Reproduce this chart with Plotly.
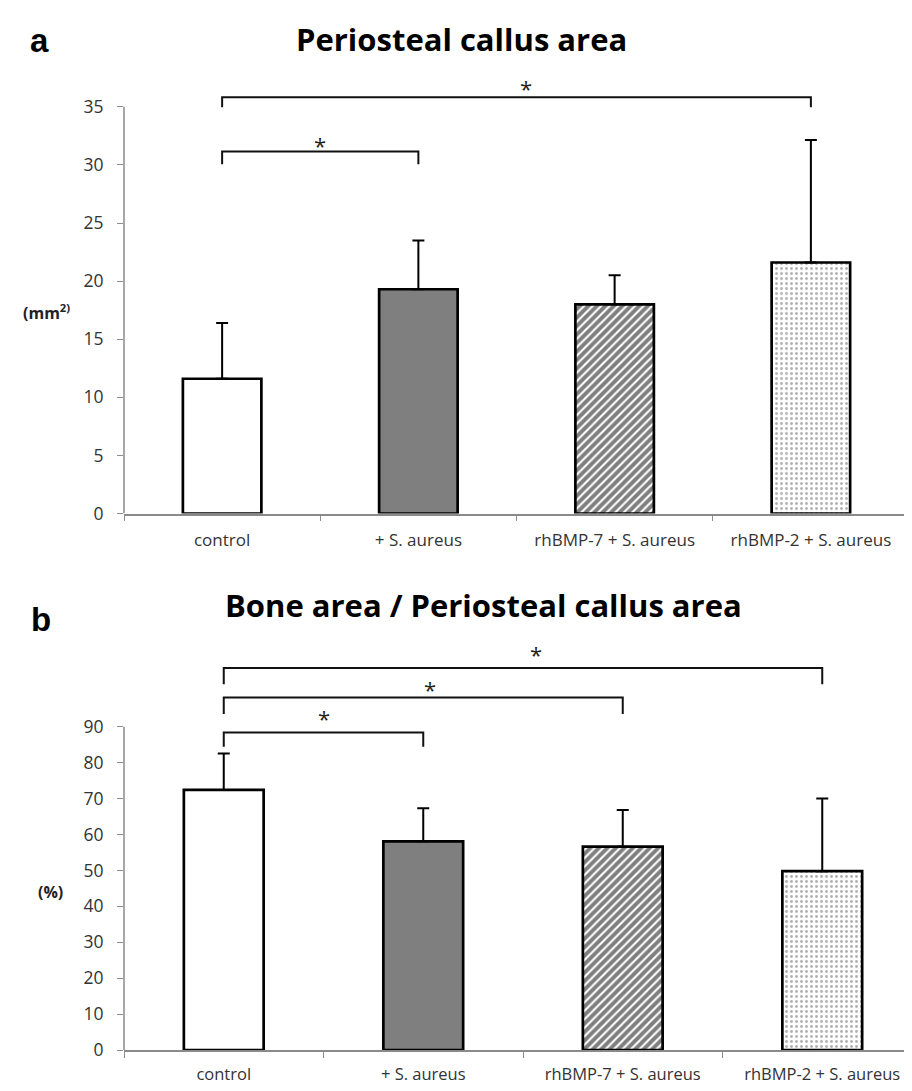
import plotly.graph_objects as go

categories = ["control", "+ S. aureus", "rhBMP-7 + S. aureus", "rhBMP-2 + S. aureus"]

callus_mean = [11.6, 19.3, 18.0, 21.6]
callus_sd = [4.8, 4.2, 2.5, 10.55]
callus_ticks = [0, 5, 10, 15, 20, 25, 30, 35]

bone_mean = [72.4, 58.1, 56.6, 49.8]
bone_sd = [10.1, 9.2, 10.2, 20.2]
bone_ticks = [0, 10, 20, 30, 40, 50, 60, 70, 80, 90]

# significance brackets: (from category index, to category index)
callus_pairs = [(0, 1), (0, 3)]
bone_pairs = [(0, 1), (0, 2), (0, 3)]

W, H = 912, 1091
FONT = "Open Sans"
AXIS_GRAY = "#8a8a8a"
TEXT_GRAY = "#333333"

# per-category fill styles
styles = [
    dict(color="white"),
    dict(color="#7f7f7f"),
    dict(color="white", pattern=dict(shape="/", fgcolor="black", bgcolor="white",
                                     size=6, solidity=0.65, fillmode="overlay")),
    dict(color="white", pattern=dict(shape=".", fgcolor="#5f5f5f", bgcolor="white",
                                     size=5, solidity=0.25, fillmode="overlay")),
]


def add_bars(fig, means, sds, xa, ya):
    for i, cat in enumerate(categories):
        marker = dict(line=dict(color="black", width=2.7), **styles[i])
        fig.add_trace(go.Bar(
            x=[cat], y=[means[i]], xaxis=xa, yaxis=ya, width=0.4,
            marker=marker,
            error_y=dict(type="data", symmetric=False, array=[sds[i]],
                         arrayminus=[0], color="black", thickness=2, width=6),
            showlegend=False, hoverinfo="skip",
        ))


fig = go.Figure()
add_bars(fig, callus_mean, callus_sd, "x", "y")
add_bars(fig, bone_mean, bone_sd, "x2", "y2")


def py(p):
    return 1 - p / H


def px(p):
    return p / W


axis_common = dict(
    showgrid=False, zeroline=False,
    ticks="outside", ticklen=6, tickcolor=AXIS_GRAY, tickwidth=1.3,
)

fig.update_layout(
    width=W, height=H,
    margin=dict(l=0, r=0, t=0, b=0),
    paper_bgcolor="white", plot_bgcolor="white",
    barmode="overlay",
    xaxis=dict(domain=[px(116), px(901)], anchor="y",
               range=[-0.5, 3.5], tickson="boundaries",
               categoryorder="array", categoryarray=categories,
               showline=True, linecolor=AXIS_GRAY, linewidth=1.5,
               tickfont=dict(family=FONT, size=17, color=TEXT_GRAY),
               ticklabelstandoff=10, **axis_common),
    yaxis=dict(domain=[py(510.7), py(58.7)], anchor="x",
               range=[0, 38.5], tickvals=callus_ticks, showline=False,
               tickfont=dict(family=FONT, size=17.5, color=TEXT_GRAY),
               ticklabelstandoff=10, **axis_common),
    xaxis2=dict(domain=[px(116), 1.0], anchor="y2",
                range=[-0.5, 3.49], tickson="boundaries",
                categoryorder="array", categoryarray=categories,
                showline=True, linecolor=AXIS_GRAY, linewidth=1.5,
                tickfont=dict(family=FONT, size=16.5, color=TEXT_GRAY),
                ticklabelstandoff=8, **axis_common),
    yaxis2=dict(domain=[py(1052.7), py(642.5)], anchor="x2",
                range=[0, 113], tickvals=bone_ticks, showline=False,
                tickfont=dict(family=FONT, size=17.5, color=TEXT_GRAY),
                ticklabelstandoff=10, **axis_common),
)

shapes = []
# y-axis lines only up to the top tick
shapes.append(dict(type="line", xref="paper", yref="y", x0=px(116), x1=px(116),
                   y0=0, y1=max(callus_ticks), line=dict(color=AXIS_GRAY, width=1.5)))
shapes.append(dict(type="line", xref="paper", yref="y2", x0=px(116), x1=px(116),
                   y0=0, y1=max(bone_ticks), line=dict(color=AXIS_GRAY, width=1.5)))

annotations = []


def bracket(xref, yref, i0, i1, ytop, ybot, xstar, ystar):
    shapes.append(dict(type="path", xref=xref, yref=yref,
                       path=f"M {i0},{ybot} L {i0},{ytop} L {i1},{ytop} L {i1},{ybot}",
                       line=dict(color="#111111", width=2)))
    annotations.append(dict(xref=xref, yref=yref, x=xstar, y=ystar, text="*",
                            showarrow=False, font=dict(family=FONT, size=22, color="#222222"),
                            xanchor="center", yanchor="middle"))


# panel a brackets (heights in data units)
bracket("x", "y", callus_pairs[0][0], callus_pairs[0][1], 31.15, 30.05, 0.5, 31.7)
bracket("x", "y", callus_pairs[1][0], callus_pairs[1][1], 35.83, 34.95, 1.547, 36.6)
# panel b brackets
bracket("x2", "y2", bone_pairs[0][0], bone_pairs[0][1], 88.4, 84.4, 0.5, 92.3)
bracket("x2", "y2", bone_pairs[1][0], bone_pairs[1][1], 98.1, 93.5, 1.036, 100.6)
bracket("x2", "y2", bone_pairs[2][0], bone_pairs[2][1], 106.3, 101.8, 1.563, 110.2)

# titles
annotations.append(dict(xref="paper", yref="paper", x=px(453.5), y=py(31),
                        text="<b>Periosteal callus area</b>", showarrow=False,
                        font=dict(family=FONT, size=31, color="black"),
                        xanchor="center", yanchor="middle"))
annotations.append(dict(xref="paper", yref="paper", x=px(475.5), y=py(603),
                        text="<b>Bone area / Periosteal callus area</b>", showarrow=False,
                        font=dict(family=FONT, size=31, color="black"),
                        xanchor="center", yanchor="middle"))
# panel letters
annotations.append(dict(xref="paper", yref="paper", x=px(31), y=py(33),
                        text="<b>a</b>", showarrow=False,
                        font=dict(family="Liberation Sans", size=33, color="black"),
                        xanchor="center", yanchor="middle"))
annotations.append(dict(xref="paper", yref="paper", x=px(33), y=py(618),
                        text="<b>b</b>", showarrow=False,
                        font=dict(family="Liberation Sans", size=33, color="black"),
                        xanchor="center", yanchor="middle"))
# y-axis unit labels
annotations.append(dict(xref="paper", yref="paper", x=px(38), y=py(307),
                        text="<b>(mm<sup>2)</sup></b>", showarrow=False,
                        font=dict(family=FONT, size=16, color="#222222"),
                        xanchor="center", yanchor="middle"))
annotations.append(dict(xref="paper", yref="paper", x=px(42), y=py(893),
                        text="<b>(%)</b>", showarrow=False,
                        font=dict(family=FONT, size=16, color="#222222"),
                        xanchor="center", yanchor="middle"))

fig.update_layout(shapes=shapes, annotations=annotations)

fig.write_html("out.html")
